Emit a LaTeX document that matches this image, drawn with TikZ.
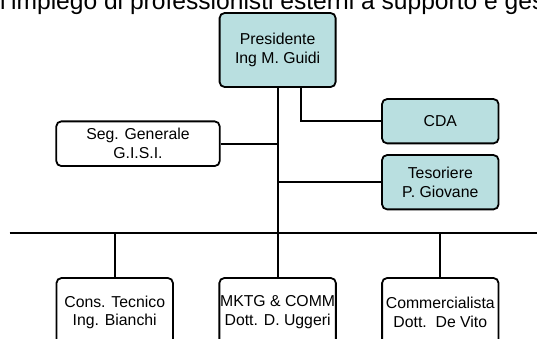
\documentclass[tikz,border=0pt]{standalone}
\usepackage{fontspec}
\setmainfont{Liberation Sans}
\definecolor{boxcyan}{RGB}{185,223,224}
\begin{document}
\begin{tikzpicture}[x=1pt,y=-1pt,
  box/.style={draw, rounded corners=5pt, line width=1.8pt, inner sep=0pt, align=center,
              font=\fontsize{15.8}{18.8}\selectfont},
  lbl/.style={inner sep=0pt, align=center, font=\fontsize{15.8}{18.8}\selectfont},
  conn/.style={draw, line width=1.8pt}]
\useasboundingbox (0,0) rectangle (537,338);
\clip (0,0) rectangle (537,338);
% heading (cut off by the page edge)
\node[anchor=base west, inner sep=0pt, font=\fontsize{24.6}{29}\selectfont] (head) at (0,9)
  {l’impiego di professionisti esterni a supporto e gestione};
% boxes
\node[box, fill=boxcyan, minimum width=116pt, minimum height=74pt] (pres) at (277.6,50) {Presidente\\Ing M. Guidi};
\node[box, fill=boxcyan, minimum width=116.5pt, minimum height=44.3pt] (cda) at (440.3,121.2) {CDA};
\node[box, fill=white, minimum width=163.4pt, minimum height=44.7pt] (seg) at (138,143.7) {Seg. Generale\\G.I.S.I.};
\node[box, fill=boxcyan, minimum width=116.5pt, minimum height=54.3pt] (tes) at (440.3,182.2) {Tesoriere\\P. Giovane};
\node[box, minimum width=116.4pt, minimum height=82pt] (ct) at (114.7,319) {};
\node[box, minimum width=116.5pt, minimum height=82pt] (mk) at (277.6,319) {};
\node[box, minimum width=116.4pt, minimum height=82pt] (co) at (440.3,319) {};
\node[lbl] (ctl) at (114.7,312.5) {Cons. Tecnico\\Ing. Bianchi};
\node[lbl] (mkl) at (277.6,312.5) {MKTG \& COMM\\Dott. D. Uggeri};
\node[lbl] (col) at (440.3,312.5) {Commercialista\\Dott.\ \ De Vito};
% bus
\coordinate (busL) at (9.5,233.3);
\coordinate (busR) at (537,233.3);
\coordinate (p2) at (301.3,87);
% connectors
\path[conn] (busL) -- (busR);
\path[conn] (pres.south) -- (pres.south |- busL);
\path[conn] (p2) |- (cda.west);
\path[conn] (seg.east) -- (seg.east -| pres.south);
\path[conn] (tes.west) -- (tes.west -| pres.south);
\path[conn] (ct.north) -- (ct.north |- busL);
\path[conn] (mk.north) -- (mk.north |- busL);
\path[conn] (co.north) -- (co.north |- busL);
\end{tikzpicture}
\end{document}
